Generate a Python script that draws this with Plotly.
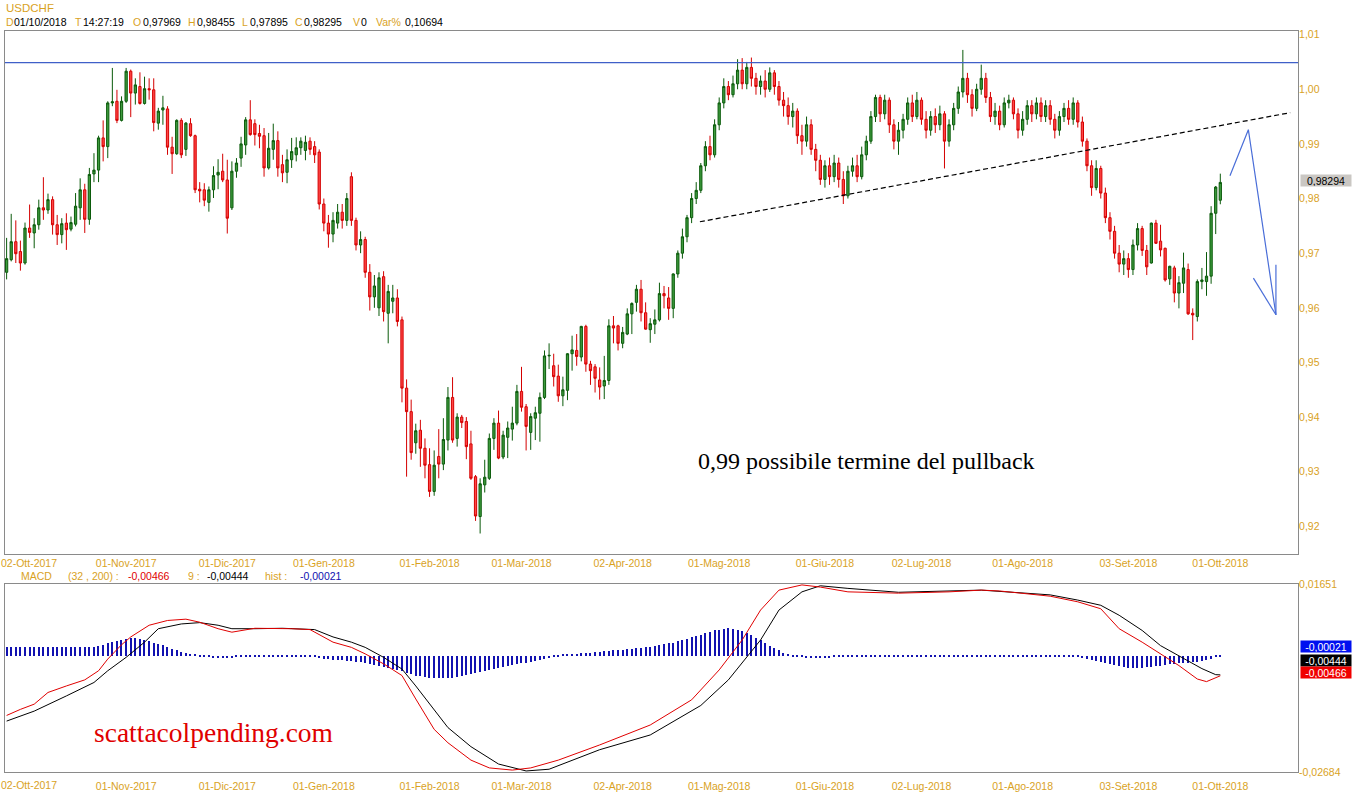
import plotly.graph_objects as go

# ---------------- data ----------------
# trading-day index: 0 = 02-Ott-2017 ... 260 = 01-Ott-2018 (first candle 26-Set-2017 = -4)
idx = list(range(-4, 261))
tick_idx = [0, 22, 44, 65, 88, 108, 130, 151, 174, 195, 217, 240, 260]
tick_lbl = ["02-Ott-2017", "01-Nov-2017", "01-Dic-2017", "01-Gen-2018", "01-Feb-2018",
            "01-Mar-2018", "02-Apr-2018", "01-Mag-2018", "01-Giu-2018", "02-Lug-2018",
            "01-Ago-2018", "03-Set-2018", "01-Ott-2018"]
price_ticks = [0.92, 0.93, 0.94, 0.95, 0.96, 0.97, 0.98, 0.99, 1.00, 1.01]
price_lbls = ["0,92", "0,93", "0,94", "0,95", "0,96", "0,97", "0,98", "0,99", "1,00", "1,01"]

open_ = [
 .9665,.9688,.9721,.9703,
 .9682,.9746,.9737,.9752,.9783,.9779,.9798,.9752,.9734,.9755,
 .9744,.9753,.9783,.9816,.9762,.9845,.9852,.9911,.9895,.9975,
 .9978,.9943,.9978,1.0033,.9993,1.0005,.9974,1.0001,.9999,.9938,
 .9962,.9964,.9894,.9882,.9943,.9890,.9937,.9915,.9817,.9816,
 .9793,.9816,.9843,.9850,.9834,.9783,.9850,.9874,.9898,.9944,
 .9937,.9919,.9915,.9856,.9890,.9906,.9862,.9848,.9871,.9880,
 .9893,.9888,.9905,.9895,.9885,.9790,.9755,.9735,.9755,.9775,
 .9760,.9840,.9760,.9715,.9725,.9665,.9620,.9600,.9657,.9590,
 .9612,.9618,.9578,.9453,.9410,.9353,.9376,.9343,.9313,.9264,
 .9328,.9314,.9358,.9436,.9361,.9400,.9392,.9351,.9291,.9218,
 .9276,.9288,.9361,.9389,.9327,.9363,.9378,.9389,.9447,.9419,
 .9372,.9398,.9407,.9436,.9512,.9494,.9475,.9439,.9449,.9516,
 .9522,.9510,.9566,.9497,.9492,.9468,.9457,.9467,.9567,.9567,
 .9535,.9552,.9589,.9610,.9634,.9591,.9560,.9570,.9578,.9626,
 .9618,.9599,.9662,.9700,.9730,.9765,.9800,.9815,.9860,.9895,
 .9880,.9935,.9975,1.0005,.9990,1.0010,1.0035,1.0010,1.0040,1.0020,
 1.0005,1.0015,1.0000,1.0030,1.0005,.9980,.9970,.9950,.9960,.9915,
 .9905,.9935,.9890,.9870,.9835,.9860,.9840,.9865,.9835,.9805,
 .9850,.9860,.9840,.9880,.9905,.9950,.9985,.9955,.9980,.9935,
 .9905,.9925,.9945,.9975,.9950,.9980,.9945,.9925,.9950,.9935,
 .9955,.9905,.9935,.9965,.9995,1.0020,.9990,.9965,1.0000,1.0020,
 .9985,.9950,.9960,.9935,.9975,.9980,.9955,.9925,.9945,.9970,
 .9955,.9975,.9950,.9970,.9945,.9925,.9950,.9965,.9945,.9975,
 .9940,.9905,.9860,.9820,.9855,.9810,.9765,.9740,.9700,.9680,
 .9690,.9670,.9715,.9745,.9705,.9682,.9755,.9722,.9709,.9653,
 .9673,.9627,.9645,.9670,.9590,.9584,.9648,.9648,.9658,.9773,
 .97969]

high = [
 .9728,.9772,.9760,.9723,
 .9756,.9789,.9764,.9798,.9839,.9809,.9804,.9770,.9764,.9773,
 .9767,.9810,.9837,.9827,.9856,.9883,.9915,.9943,.9978,1.0039,
 .9999,.9987,1.0039,1.0036,1.0020,1.0031,1.0023,1.0020,1.0020,.9966,
 .9988,.9969,.9913,.9945,.9947,.9940,.9947,.9917,.9830,.9828,
 .9822,.9859,.9872,.9882,.9871,.9868,.9874,.9913,.9949,.9980,
 .9945,.9935,.9929,.9920,.9937,.9923,.9880,.9890,.9911,.9912,
 .9912,.9915,.9912,.9905,.9890,.9800,.9770,.9775,.9790,.9790,
 .9810,.9848,.9765,.9740,.9730,.9680,.9660,.9665,.9667,.9642,
 .9642,.9634,.9584,.9469,.9432,.9388,.9395,.9361,.9343,.9339,
 .9378,.9398,.9455,.9473,.9407,.9404,.9400,.9375,.9294,.9288,
 .9322,.9370,.9398,.9412,.9375,.9392,.9419,.9459,.9492,.9424,
 .9407,.9419,.9445,.9522,.9535,.9516,.9496,.9474,.9517,.9549,
 .9552,.9567,.9569,.9503,.9497,.9491,.9512,.9579,.9585,.9569,
 .9565,.9599,.9610,.9642,.9651,.9610,.9581,.9597,.9646,.9640,
 .9638,.9663,.9705,.9745,.9770,.9810,.9830,.9865,.9905,.9915,
 .9945,.9985,1.0020,1.0015,1.0025,1.0055,1.0057,1.0050,1.0058,1.0030,
 1.0025,1.0035,1.0040,1.0035,1.0015,.9995,.9985,.9975,.9965,.9935,
 .9950,.9945,.9900,.9880,.9870,.9875,.9880,.9875,.9850,.9860,
 .9875,.9880,.9895,.9915,.9960,.9990,.9990,.9990,.9985,.9945,
 .9940,.9955,.9985,.9990,.9995,.9985,.9960,.9960,.9965,.9970,
 .9960,.9945,.9975,1.0005,1.0072,1.0030,1.0000,1.0010,1.0045,1.0030,
 .9995,.9975,.9970,.9985,.9990,.9985,.9965,.9960,.9980,.9980,
 .9985,.9985,.9980,.9980,.9955,.9960,.9975,.9980,.9985,.9980,
 .9950,.9910,.9870,.9870,.9860,.9820,.9775,.9750,.9715,.9705,
 .9700,.9725,.9755,.9750,.9715,.9756,.9761,.9752,.9710,.9677,
 .9677,.9658,.9701,.9681,.9599,.9652,.9673,.9702,.9786,.9823,
 .98455]

low = [
 .9652,.9685,.9682,.9668,
 .9679,.9728,.9709,.9743,.9761,.9772,.9734,.9715,.9718,.9706,
 .9740,.9749,.9761,.9737,.9752,.9830,.9830,.9868,.9874,.9969,
 .9938,.9941,.9975,.9949,.9972,.9972,.9972,.9981,.9923,.9926,
 .9935,.9880,.9845,.9880,.9874,.9878,.9913,.9810,.9793,.9786,
 .9776,.9801,.9817,.9830,.9736,.9779,.9838,.9858,.9880,.9915,
 .9897,.9892,.9840,.9853,.9871,.9840,.9830,.9828,.9856,.9868,
 .9880,.9870,.9880,.9865,.9780,.9740,.9710,.9720,.9745,.9745,
 .9750,.9750,.9705,.9700,.9655,.9595,.9600,.9585,.9575,.9535,
 .9590,.9566,.9427,.9291,.9322,.9333,.9309,.9288,.9254,.9256,
 .9288,.9303,.9339,.9353,.9346,.9380,.9323,.9285,.9210,.9187,
 .9262,.9285,.9340,.9323,.9323,.9325,.9357,.9385,.9410,.9339,
 .9340,.9358,.9355,.9433,.9488,.9456,.9428,.9420,.9431,.9485,
 .9494,.9502,.9483,.9459,.9445,.9432,.9433,.9459,.9535,.9522,
 .9526,.9550,.9552,.9593,.9575,.9560,.9536,.9552,.9575,.9599,
 .9578,.9581,.9655,.9690,.9720,.9755,.9790,.9810,.9850,.9870,
 .9875,.9925,.9965,.9980,.9985,1.0000,1.0000,1.0000,1.0005,.9990,
 .9990,.9985,.9995,.9990,.9970,.9950,.9935,.9930,.9900,.9880,
 .9895,.9880,.9850,.9825,.9820,.9825,.9830,.9820,.9790,.9800,
 .9840,.9830,.9835,.9870,.9900,.9940,.9940,.9945,.9920,.9890,
 .9880,.9910,.9935,.9940,.9945,.9935,.9910,.9915,.9920,.9925,
 .9855,.9895,.9925,.9955,.9985,.9975,.9950,.9960,.9990,.9975,
 .9940,.9935,.9925,.9930,.9965,.9945,.9910,.9915,.9935,.9940,
 .9945,.9940,.9940,.9935,.9910,.9915,.9940,.9935,.9935,.9930,
 .9895,.9850,.9805,.9815,.9800,.9755,.9725,.9690,.9665,.9660,
 .9655,.9660,.9705,.9695,.9660,.9681,.9717,.9694,.9648,.9642,
 .9610,.9599,.9627,.9587,.9541,.9575,.9634,.9622,.9644,.9735,
 .97895]

close = [
 .9690,.9721,.9699,.9682,
 .9746,.9738,.9752,.9783,.9779,.9798,.9752,.9734,.9754,.9743,
 .9756,.9786,.9816,.9762,.9844,.9852,.9911,.9895,.9975,.9977,
 .9943,.9978,1.0033,.9993,1.0008,.9974,1.0001,.9999,.9939,.9960,
 .9966,.9894,.9882,.9943,.9880,.9938,.9915,.9816,.9814,.9797,
 .9816,.9842,.9848,.9834,.9764,.9850,.9865,.9900,.9944,.9917,
 .9917,.9914,.9856,.9892,.9906,.9856,.9847,.9871,.9886,.9893,
 .9905,.9903,.9890,.9880,.9790,.9755,.9735,.9760,.9775,.9760,
 .9800,.9760,.9715,.9725,.9665,.9620,.9640,.9655,.9593,.9630,
 .9618,.9575,.9453,.9410,.9335,.9375,.9343,.9312,.9264,.9312,
 .9314,.9359,.9436,.9358,.9400,.9390,.9346,.9288,.9219,.9278,
 .9290,.9361,.9389,.9325,.9367,.9380,.9389,.9447,.9418,.9383,
 .9401,.9408,.9436,.9512,.9513,.9474,.9439,.9450,.9516,.9523,
 .9511,.9566,.9497,.9485,.9471,.9455,.9467,.9567,.9563,.9535,
 .9555,.9589,.9608,.9634,.9591,.9561,.9571,.9578,.9626,.9622,
 .9599,.9662,.9700,.9730,.9765,.9800,.9815,.9860,.9895,.9880,
 .9935,.9975,1.0005,.9990,1.0010,1.0035,1.0010,1.0040,1.0020,1.0005,
 1.0015,1.0000,1.0030,1.0005,.9980,.9970,.9950,.9960,.9915,.9905,
 .9935,.9890,.9870,.9835,.9860,.9840,.9865,.9835,.9805,.9850,
 .9860,.9840,.9880,.9905,.9950,.9985,.9955,.9980,.9935,.9905,
 .9925,.9945,.9975,.9950,.9980,.9945,.9925,.9950,.9935,.9955,
 .9905,.9935,.9965,.9995,1.0020,.9990,.9965,1.0000,1.0020,.9985,
 .9950,.9960,.9935,.9975,.9980,.9955,.9925,.9945,.9970,.9955,
 .9975,.9950,.9970,.9945,.9925,.9950,.9965,.9945,.9975,.9940,
 .9905,.9860,.9820,.9855,.9810,.9765,.9740,.9700,.9680,.9690,
 .9670,.9715,.9745,.9705,.9675,.9755,.9718,.9706,.9651,.9676,
 .9627,.9646,.9673,.9589,.9587,.9648,.9651,.9658,.9773,.9821,
 .98295]

# MACD (32,200) line, read at sampled trading days
macd_idx = [-4, -1, 2, 5, 9, 13, 16, 18, 21, 23, 27, 31, 35, 38, 42, 45, 50, 54, 58, 62,
            65, 67, 71, 74, 78, 82, 85, 89, 92, 97, 101, 106, 110, 116, 125, 136, 145,
            151, 156, 160, 164, 169, 173, 179, 190, 201, 208, 212, 223, 229, 234, 238,
            243, 247, 251, 255, 257, 260]
macd_val = [-0.0138, -0.0124, -0.0112, -0.0085, -0.0070, -0.0056, -0.0035, -0.0008,
            0.0025, 0.0043, 0.0070, 0.0081, 0.0084, 0.0077, 0.0062, 0.0054, 0.0063,
            0.0063, 0.0062, 0.0060, 0.0043, 0.0031, 0.0019, 0.0004, -0.0019, -0.0046,
            -0.0100, -0.0170, -0.0201, -0.0241, -0.0259, -0.0264, -0.0259, -0.0241,
            -0.0206, -0.0160, -0.0102, -0.0033, 0.0036, 0.0105, 0.0151, 0.0163,
            0.0158, 0.0147, 0.0144, 0.0147, 0.0151, 0.0149, 0.0137, 0.0124, 0.0108,
            0.0062, 0.0031, 0.0004, -0.0023, -0.0054, -0.0060, -0.00466]
# signal line (9)
sig_idx = [-4, 2, 9, 15, 18, 22, 26, 29, 34, 38, 42, 45, 50, 56, 63, 67, 71, 74, 78, 82,
           85, 89, 92, 97, 103, 109, 114, 125, 136, 147, 153, 160, 164, 169, 173, 179,
           190, 208, 223, 229, 234, 238, 243, 247, 251, 256, 259, 260]
sig_val = [-0.0151, -0.0128, -0.0093, -0.0062, -0.0035, -0.0004, 0.0031, 0.0062, 0.0073,
           0.0076, 0.0070, 0.0062, 0.0062, 0.0063, 0.0060, 0.0043, 0.0031, 0.0019,
           -0.0004, -0.0031, -0.0070, -0.0124, -0.0166, -0.0210, -0.0250, -0.0266,
           -0.0262, -0.0217, -0.0183, -0.0115, -0.0056, 0.0036, 0.0105, 0.0147, 0.0161,
           0.0155, 0.0146, 0.0151, 0.0140, 0.0128, 0.0116, 0.0093, 0.0058, 0.0023,
           0.0000, -0.0030, -0.0044, -0.00444]
# histogram, one bar per candle (units of 1e-4)
hist_e4 = [
 19,19,19,19,19,19,19,19,19,19,19,19,19,19,19,19,19,19,19,19,
 22,25,28,31,34,
 37,39,40,40,39,37,
 34,30,27,24,
 20,16,12,9,
 6,3,3,-3,
 -3,-4,-5,-6,-6,-6,
 -5,-4,-3,-3,-3,-3,
 -3,-3,-3,-3,-3,-3,-3,-3,-3,-3,-3,-3,
 -3,-5,-7,-8,-9,-10,-11,-12,
 -13,-14,-15,-17,-20,-22,-25,
 -27,-29,-31,-33,-36,-40,-43,
 -46,-48,-50,-51,-52,-52,-52,-52,
 -51,-49,-47,-45,-42,-40,-38,-36,
 -33,-31,-29,-26,-24,-22,-20,-18,
 -16,-14,-12,-10,-8,-6,-4,-3,
 3,3,3,4,5,6,7,8,
 9,10,11,12,13,14,15,16,
 17,18,19,20,22,24,26,28,
 30,33,36,39,42,45,48,52,
 55,58,60,62,63,62,60,57,
 52,47,41,35,29,23,17,12,
 7,3,-3,-3,-4,-5,-6,-6,
 -6,-5,-5,-4,-4,-3,-3,-3,
 -3,-3,-3,-3,-3,-3,-3,-3,
 -3,-3,-3,-3,-3,-3,-3,-3,
 -3,-3,-3,-3,-3,-3,-3,-3,
 -3,-3,-3,-3,-3,-3,-3,-3,
 -3,-3,-3,-3,-3,-3,-3,-3,
 -3,-3,-3,-3,-3,-3,-3,-3,
 -3,-5,-7,-9,-12,-14,-16,-19,
 -22,-25,-27,-28,-28,-28,-28,-27,
 -26,-25,-23,-21,-20,-19,-18,-17,
 -16,-15,-14,-13,-10,-7,-4,-2]
hist = [v / 10000 for v in hist_e4]

resistance = 1.00487
trend_idx = [146.8, 275.2]
trend_val = [0.97575, 0.99571]
arrow_idx = [262.1, 266.1, 272.1]
arrow_val = [0.98418, 0.99260, 0.95872]
head1_idx = [267.2, 272.1]
head1_val = [0.96544, 0.95872]
head2_idx = [272.1, 272.1]
head2_val = [0.96788, 0.95872]

# ---------------- figure ----------------
GOLD = "#D9A21E"
FONT = "Liberation Sans"
W, H = 1352, 800
L, R, T, B = 5, 1298, 31, 772


def px(xp):
    return (xp - L) / (R - L)


def py(yp):
    return (B - yp) / (B - T)


fig = go.Figure()
fig.add_trace(go.Candlestick(
    x=idx[:len(close)], open=open_, high=high, low=low, close=close,
    increasing=dict(line=dict(color="#0A5A0A", width=1), fillcolor="#3E9B3E"),
    decreasing=dict(line=dict(color="#D40000", width=1), fillcolor="#FF4646"),
    whiskerwidth=0, showlegend=False, xaxis="x", yaxis="y"))

fig.add_trace(go.Scatter(x=trend_idx, y=trend_val, mode="lines",
                         line=dict(color="black", width=1.2, dash="5px,3px"),
                         showlegend=False, xaxis="x", yaxis="y"))
for xs, ys in [(arrow_idx, arrow_val), (head1_idx, head1_val), (head2_idx, head2_val)]:
    fig.add_trace(go.Scatter(x=xs, y=ys, mode="lines",
                             line=dict(color="#4A6ED8", width=1.2),
                             showlegend=False, xaxis="x", yaxis="y"))

fig.add_trace(go.Bar(x=idx[:len(hist)], y=hist, width=0.25,
                     marker=dict(color="#1212B0", line=dict(width=0)),
                     showlegend=False, xaxis="x2", yaxis="y2"))
fig.add_trace(go.Scatter(x=sig_idx, y=sig_val, mode="lines",
                         line=dict(color="black", width=1),
                         showlegend=False, xaxis="x2", yaxis="y2"))
fig.add_trace(go.Scatter(x=macd_idx, y=macd_val, mode="lines",
                         line=dict(color="#E00000", width=1),
                         showlegend=False, xaxis="x2", yaxis="y2"))

xr = [-4.35, 276.9]
axis_common = dict(showline=True, mirror=True, linecolor="#8A8A8A", linewidth=1,
                   showgrid=False, zeroline=False, ticks="", automargin=False,
                   ticklabeloverflow="allow",
                   tickfont=dict(family=FONT, size=10.5, color=GOLD))
main_dom = [py(553.6), 1]
macd_dom = [0, py(584)]

fig.update_layout(
    width=W, height=H, autosize=False,
    margin=dict(l=L, r=W - R, t=T, b=H - B, autoexpand=False),
    paper_bgcolor="white", plot_bgcolor="white",
    bargap=0,
    # first date label (at the left edge) is drawn as an annotation below
    xaxis=dict(domain=[0, 1], anchor="y", range=xr, tickmode="array",
               tickvals=tick_idx[1:], ticktext=tick_lbl[1:],
               rangeslider=dict(visible=False), **axis_common),
    xaxis2=dict(domain=[0, 1], anchor="y2", range=xr, matches="x", tickmode="array",
                tickvals=tick_idx[1:], ticktext=tick_lbl[1:], ticklabelstandoff=4,
                **axis_common),
    yaxis=dict(domain=main_dom, anchor="x", side="right", range=[0.91502, 1.01066],
               tickmode="array", tickvals=price_ticks, ticktext=price_lbls,
               ticklabelstandoff=-2, **axis_common),
    yaxis2=dict(domain=macd_dom, anchor="x2", side="right", range=[-0.02684, 0.01651],
                tickmode="array", tickvals=[0.01651, -0.02684],
                ticktext=["0,01651", "-0,02684"], ticklabelstandoff=-2,
                **axis_common),
    showlegend=False,
    hovermode=False,
)

fig.add_shape(type="line", xref="paper", yref="y", x0=0, x1=1, y0=resistance, y1=resistance,
              line=dict(color="#3F5FC8", width=1.2))

ann = []


def txt(text, xp, yp, color, size=10.5, family=FONT, xanchor="left"):
    ann.append(dict(text=text, x=px(xp), y=py(yp), xref="paper", yref="paper",
                    xanchor=xanchor, yanchor="middle", showarrow=False,
                    font=dict(family=family, size=size, color=color)))


txt(tick_lbl[0], -1, 562.5, GOLD)
txt(tick_lbl[0], -1, 785, GOLD)

txt("USDCHF", 4, 8, GOLD, size=11.5)
for t, xp, c in [("D", 4, GOLD), ("01/10/2018", 12, "black"), ("T", 73, GOLD),
                 ("14:27:19", 81, "black"), ("O", 131, GOLD), ("0,97969", 141, "black"),
                 ("H", 186, GOLD), ("0,98455", 195, "black"), ("L", 240, GOLD),
                 ("0,97895", 248, "black"), ("C", 293, GOLD), ("0,98295", 302, "black"),
                 ("V", 351, GOLD), ("0", 359, "black"), ("Var%", 374, GOLD),
                 ("0,10694", 403, "black")]:
    txt(t, xp, 22, c)

for t, xp, c in [("MACD", 19, GOLD), ("(32 , 200) :", 66, GOLD), ("-0,00466", 126, "#E00000"),
                 ("9 :", 186, GOLD), ("-0,00444", 205, "black"), ("hist :", 263, GOLD),
                 ("-0,00021", 298, "#1010B0")]:
    txt(t, xp, 576, c)

txt("0,99 possibile termine del pullback", 696, 461, "black", size=24,
    family="Liberation Serif")
txt("scattacolpending.com", 92, 732, "#E00000", size=27.5, family="Liberation Serif")

# value boxes on the right scale
for t, yp, bg, fg in [("0,98294", 180, "#CAC7C3", "black"),
                      ("-0,00021", 646.5, "#0010F0", "white"),
                      ("-0,00444", 660.5, "black", "white"),
                      ("-0,00466", 672.5, "#F00000", "white")]:
    ann.append(dict(text=t, x=px(1299.5), y=py(yp), xref="paper", yref="paper",
                    xanchor="left", yanchor="middle", showarrow=False,
                    width=50, height=11, align="center", bgcolor=bg, borderpad=0,
                    font=dict(family=FONT, size=10.5, color=fg)))

fig.update_layout(annotations=ann)
fig.write_html("out.html", config={"displayModeBar": False},
               post_script="document.body.style.margin='0px';"
                           "document.body.style.overflow='hidden';")
